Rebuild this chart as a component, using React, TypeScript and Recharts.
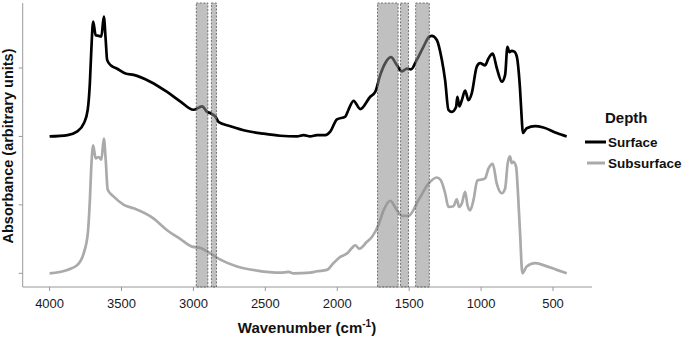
import React from 'react';
import { LineChart, Line, XAxis, YAxis, ReferenceArea } from 'recharts';

const surfaceWavenumber = [4000,3875,3810,3760,3735,3720,3710,3697,3680,3658,3640,3623,3610,3600,3575,3530,3472,3415,3300,3183,3090,3000,2940,2905,2882,2847,2824,2743,2627,2512,2396,2280,2234,2188,2141,2083,2049,2002,1944,1922,1887,1840,1771,1736,1701,1667,1627,1585,1551,1516,1488,1447,1401,1359,1342,1308,1273,1250,1227,1203,1174,1165,1151,1134,1111,1088,1065,1030,1007,972,949,919,891,856,833,817,803,787,769,752,729,717,710,683,625,567,474,405];
const surfaceAbsorbance = [2.00,2.02,2.07,2.20,2.39,2.78,3.26,3.68,3.48,3.47,3.46,3.75,3.41,3.12,3.04,2.99,2.92,2.90,2.80,2.65,2.51,2.39,2.44,2.36,2.34,2.29,2.21,2.15,2.08,2.04,2.01,2.00,2.02,2.00,2.02,2.02,2.07,2.25,2.29,2.39,2.52,2.40,2.58,2.65,2.90,3.07,3.16,3.04,2.95,2.99,2.98,3.12,3.31,3.46,3.47,3.41,3.12,2.82,2.39,2.36,2.43,2.58,2.44,2.53,2.67,2.53,2.63,3.02,3.07,3.04,3.14,3.21,3.00,2.80,2.90,3.31,3.23,3.25,3.24,3.17,2.68,2.24,2.05,2.12,2.15,2.13,2.05,2.00];

const subsurfaceWavenumber = [4000,3877,3808,3762,3734,3720,3710,3697,3680,3658,3640,3623,3610,3596,3554,3484,3415,3276,3183,3090,3010,2950,2905,2882,2813,2697,2558,2396,2338,2303,2188,2141,2072,2026,1979,1933,1898,1875,1847,1794,1759,1713,1678,1632,1585,1551,1505,1435,1366,1308,1280,1250,1227,1192,1169,1153,1134,1111,1095,1076,1053,1026,995,972,949,919,891,856,833,815,799,787,776,757,741,729,713,683,625,567,474,405];
const subsurfaceAbsorbance = [0,0.05,0.12,0.30,0.59,1.07,1.56,1.87,1.68,1.70,1.66,1.97,1.66,1.22,1.12,1.00,0.95,0.80,0.63,0.50,0.39,0.37,0.32,0.29,0.20,0.10,0.04,0.01,0.02,0,0.01,0.03,0.05,0.15,0.24,0.29,0.37,0.41,0.36,0.46,0.53,0.71,0.92,1.06,0.92,0.84,0.84,1.07,1.31,1.40,1.36,1.17,0.97,0.98,1.08,0.97,1.02,1.19,1.00,0.92,1.07,1.36,1.37,1.39,1.53,1.60,1.31,1.17,1.24,1.61,1.71,1.61,1.63,1.56,1.07,0.58,0,0.10,0.15,0.12,0.05,0];

const bandStart = [2980, 2875, 1720, 1560, 1455];
const bandEnd = [2900, 2840, 1577, 1505, 1360];

const xTicks = [4000, 3500, 3000, 2500, 2000, 1500, 1000, 500];
const yTicks = [0, 1, 2, 3];

const seriesNames = ['Surface', 'Subsurface'];
const seriesColors = ['#000000', '#aaaaaa'];

const surface = surfaceWavenumber.map((w, i) => ({ w, a: surfaceAbsorbance[i] }));
const subsurface = subsurfaceWavenumber.map((w, i) => ({ w, a: subsurfaceAbsorbance[i] }));

const FONT = 'Arial, "Liberation Sans", sans-serif';

export default function App() {
  return (
    <div style={{ position: 'absolute', left: 0, top: 0, width: 685, height: 343, fontFamily: FONT }}>
      <LineChart width={685} height={343} margin={{ top: 3, right: 93, bottom: 6, left: 12.7 }}>
        <XAxis
          dataKey="w"
          type="number"
          domain={[229, 4187]}
          reversed
          ticks={xTicks}
          allowDataOverflow
          stroke="#999999"
          tick={{ fill: '#1a1a1a', fontSize: 13, fontFamily: FONT }}
          tickSize={4}
          tickMargin={8}
          height={50}
        />
        <YAxis
          type="number"
          dataKey="a"
          domain={[-0.2, 3.95]}
          ticks={yTicks}
          allowDataOverflow
          tickFormatter={() => ''}
          width={10}
          stroke="#999999"
          tickSize={4}
        />
        <Line data={subsurface} dataKey="a" name={seriesNames[1]} stroke={seriesColors[1]} strokeWidth={2.7} dot={false} isAnimationActive={false} type="monotone" />
        <Line data={surface} dataKey="a" name={seriesNames[0]} stroke={seriesColors[0]} strokeWidth={2.7} dot={false} isAnimationActive={false} type="monotone" />
        {bandStart.map((s, i) => (
          <ReferenceArea
            key={i}
            x1={s}
            x2={bandEnd[i]}
            fill="#8c8c8c"
            fillOpacity={0.55}
            stroke="#555555"
            strokeWidth={0.8}
            strokeDasharray="2 1.5"
            zIndex={800}
          />
        ))}
      </LineChart>
      <svg width={685} height={343} style={{ position: 'absolute', left: 0, top: 0, pointerEvents: 'none' }}>
        <text
          transform="translate(8,146) rotate(-90)"
          textAnchor="middle"
          dominantBaseline="central"
          fontWeight="bold"
          fontSize={14.5}
          fill="#111"
          fontFamily={FONT}
        >
          Absorbance (arbitrary units)
        </text>
        <text x={307} y={333} textAnchor="middle" fontWeight="bold" fontSize={15} fill="#111" fontFamily={FONT}>
          Wavenumber (cm<tspan fontSize={10} dy={-6}>-1</tspan><tspan dy={6}>)</tspan>
        </text>
        <text x={605} y={123} fontWeight="bold" fontSize={15} fill="#111" fontFamily={FONT}>Depth</text>
        {seriesNames.map((n, i) => (
          <g key={n}>
            <line x1={585 + i * 2} x2={606 - i} y1={142 + i * 21} y2={142 + i * 21} stroke={seriesColors[i]} strokeWidth={3} />
            <text x={608} y={142 + i * 21} dominantBaseline="central" fontWeight="bold" fontSize={13.5} fill="#111" fontFamily={FONT}>{n}</text>
          </g>
        ))}
      </svg>
    </div>
  );
}
